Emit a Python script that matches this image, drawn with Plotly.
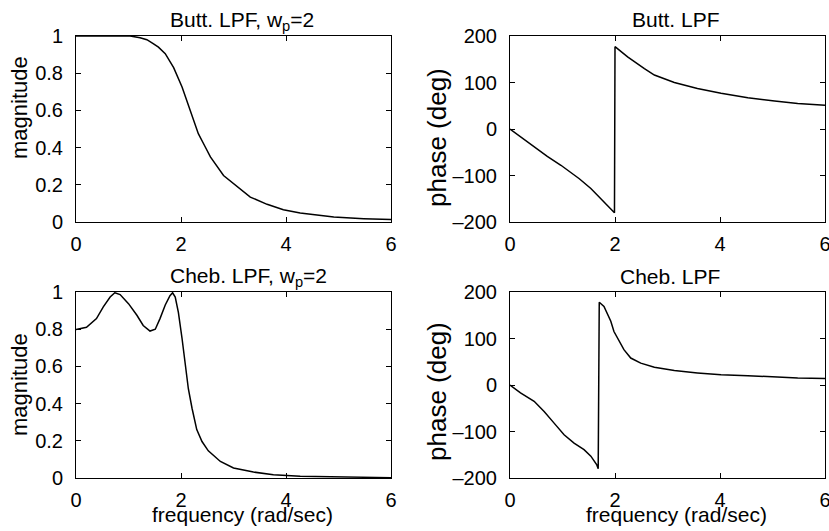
import plotly.graph_objects as go

# ---- data ----
butt_mag_w = [0, 0.5, 1.03, 1.22, 1.35, 1.47, 1.57, 1.70, 1.86, 2.02, 2.17, 2.33, 2.45, 2.56, 2.81, 3.0, 3.32, 3.64, 3.95, 4.27, 4.59, 4.91, 5.48, 6.0]
butt_mag = [1.0, 1.0, 1.0, 0.991, 0.98, 0.959, 0.94, 0.905, 0.83, 0.726, 0.60, 0.475, 0.41, 0.35, 0.25, 0.206, 0.134, 0.095, 0.066, 0.048, 0.036, 0.027, 0.018, 0.013]

butt_ph_w = [0, 0.33, 0.71, 0.97, 1.32, 1.54, 1.79, 1.97, 1.99, 2.0, 2.24, 2.56, 2.75, 3.13, 3.57, 4.02, 4.53, 5.04, 5.48, 6.0]
butt_ph = [0, -28, -59, -78, -107, -128, -157, -176, -180, 177, 155, 130, 116, 100, 87, 77, 67, 60, 55, 51]

cheb_mag_w = [0, 0.2, 0.39, 0.52, 0.65, 0.74, 0.84, 1.0, 1.16, 1.28, 1.41, 1.51, 1.60, 1.70, 1.79, 1.84, 1.89, 1.95, 2.02, 2.08, 2.14, 2.21, 2.30, 2.40, 2.52, 2.75, 3.0, 3.38, 3.76, 4.27, 4.91, 5.42, 6.0]
cheb_mag = [0.798, 0.81, 0.857, 0.92, 0.973, 0.996, 0.986, 0.9375, 0.875, 0.82, 0.79, 0.80, 0.857, 0.93, 0.98, 0.996, 0.973, 0.89, 0.75, 0.607, 0.48, 0.375, 0.26, 0.196, 0.146, 0.089, 0.054, 0.032, 0.018, 0.009, 0.005, 0.003, 0.002]

cheb_ph_w = [0, 0.2, 0.46, 0.65, 0.84, 1.03, 1.22, 1.41, 1.54, 1.65, 1.68, 1.70, 1.79, 1.92, 1.98, 2.08, 2.17, 2.30, 2.49, 2.75, 3.13, 3.57, 4.02, 4.53, 5.04, 5.48, 6.0]
cheb_ph = [0, -17, -35, -57, -82, -107, -125, -139, -153, -171, -180, 178, 169, 137, 115, 94, 76, 58, 47, 38, 31, 26, 22, 20, 17, 15, 14]

x_ticks = [0, 2, 4, 6]
mag_ticks = [0, 0.2, 0.4, 0.6, 0.8, 1]
mag_labels = ["0", "0.2", "0.4", "0.6", "0.8", "1"]
ph_ticks = [-200, -100, 0, 100, 200]
ph_labels = ["\u2013200", "\u2013100", "0", "100", "200"]

titles = ["Butt. LPF, w<sub>p</sub>=2", "Butt. LPF", "Cheb. LPF, w<sub>p</sub>=2", "Cheb. LPF"]

W, H = 829, 531
FONT = "Liberation Sans, Arial, Helvetica, sans-serif"

fig = go.Figure()
line = dict(color="black", width=1.5)
fig.add_trace(go.Scatter(x=butt_mag_w, y=butt_mag, mode="lines", line=line, xaxis="x", yaxis="y"))
fig.add_trace(go.Scatter(x=butt_ph_w, y=butt_ph, mode="lines", line=line, xaxis="x2", yaxis="y2"))
fig.add_trace(go.Scatter(x=cheb_mag_w, y=cheb_mag, mode="lines", line=line, xaxis="x3", yaxis="y3"))
fig.add_trace(go.Scatter(x=cheb_ph_w, y=cheb_ph, mode="lines", line=line, xaxis="x4", yaxis="y4"))

def px_x(p):
    return p / W

def px_y(p):
    return 1 - p / H

xdom_l = [px_x(76), px_x(391)]
xdom_r = [px_x(510), px_x(825)]
ydom_t = [px_y(222), px_y(36)]
ydom_b = [px_y(478), px_y(292)]

common = dict(showline=True, linecolor="black", linewidth=1, mirror="ticks",
              ticks="inside", ticklen=5, tickcolor="black", tickwidth=1,
              showgrid=False, zeroline=False, automargin=False,
              ticklabeloverflow="allow",
              tickfont=dict(family=FONT, size=20, color="black"))

def xax(dom, anchor):
    return dict(domain=dom, anchor=anchor, range=[0, 6], tickvals=x_ticks,
                ticktext=[str(v) for v in x_ticks], ticklabelstandoff=4, **common)

def yax(dom, anchor, rng, tv, tt):
    return dict(domain=dom, anchor=anchor, range=rng, tickvals=tv, ticktext=tt,
                ticklabelstandoff=8, **common)

layout = dict(
    width=W, height=H, margin=dict(l=0, r=0, t=0, b=0, autoexpand=False),
    paper_bgcolor="white", plot_bgcolor="white", showlegend=False,
    xaxis=xax(xdom_l, "y"), yaxis=yax(ydom_t, "x", [0, 1], mag_ticks, mag_labels),
    xaxis2=xax(xdom_r, "y2"), yaxis2=yax(ydom_t, "x2", [-200, 200], ph_ticks, ph_labels),
    xaxis3=xax(xdom_l, "y3"), yaxis3=yax(ydom_b, "x3", [0, 1], mag_ticks, mag_labels),
    xaxis4=xax(xdom_r, "y4"), yaxis4=yax(ydom_b, "x4", [-200, 200], ph_ticks, ph_labels),
)
fig.update_layout(**layout)

def ann(text, x, y, size, angle=0):
    fig.add_annotation(text=text, x=px_x(x), y=px_y(y), xref="paper", yref="paper",
                       xanchor="center", yanchor="middle", showarrow=False, textangle=angle,
                       font=dict(family=FONT, size=size, color="black"))

ann(titles[0], 242, 21, 21)
ann(titles[1], 676, 20, 21)
ann(titles[2], 248, 277, 21)
ann(titles[3], 670, 276, 21)
ann("magnitude", 19, 108, 22, -90)
ann("magnitude", 19, 385, 22, -90)
ann("phase (deg)", 437, 138, 26, -90)
ann("phase (deg)", 437, 392, 26, -90)
ann("frequency (rad/sec)", 242, 514, 21)
ann("frequency (rad/sec)", 676, 514, 21)

fig.write_html("out.html", config={"displayModeBar": False},
               post_script="document.body.style.margin='0';document.body.style.overflow='hidden';")
